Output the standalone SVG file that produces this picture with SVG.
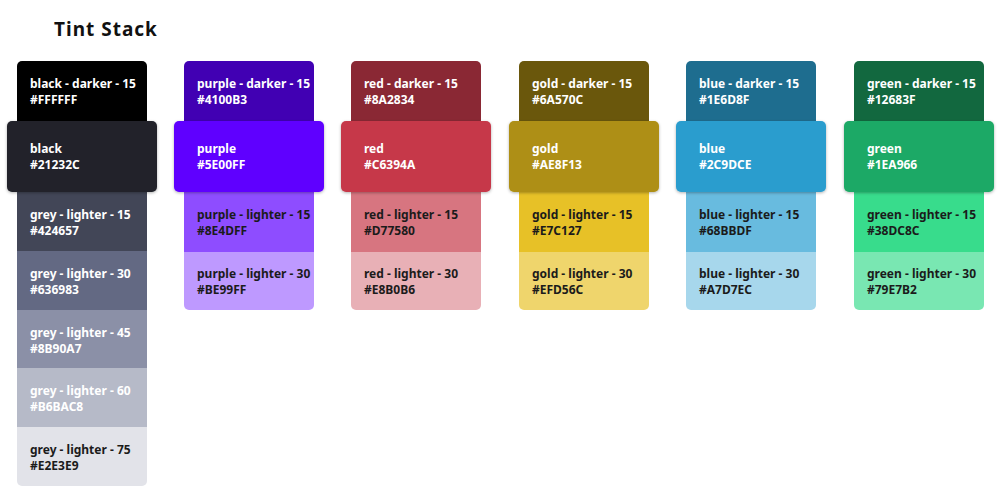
<svg xmlns="http://www.w3.org/2000/svg" width="1000" height="500" viewBox="0 0 1000 500">
<defs>
<style>
text{font-family:"Noto Sans","Open Sans",sans-serif;font-weight:bold;font-size:12px}
.w{fill:#fff}.d{fill:#1b1b1b}
.title{font-size:19px;fill:#111;letter-spacing:1px}
</style>
<filter id="sh" x="-10%" y="-20%" width="120%" height="150%"><feDropShadow dx="0" dy="1" stdDeviation="1.5" flood-opacity="0.3"/></filter>
</defs>
<rect width="1000" height="500" fill="#fff"/>
<text class="title" x="54" y="36">Tint Stack</text>

<g id="col-black">
<rect x="17" y="61" width="130" height="70" rx="5" fill="#000"/>
<text class="w" x="30" y="88">black - darker - 15</text><text class="w" x="30" y="104">#FFFFFF</text>
<rect x="17" y="185" width="130" height="301" rx="5" fill="#E2E3E9"/>
<rect x="17" y="185" width="130" height="67" fill="#424657"/>
<rect x="17" y="251" width="130" height="59" fill="#636983"/>
<rect x="17" y="310" width="130" height="58" fill="#8B90A7"/>
<rect x="17" y="368" width="130" height="59" fill="#B6BAC8"/>
<text class="w" x="30" y="219">grey - lighter - 15</text><text class="w" x="30" y="235">#424657</text>
<text class="w" x="30" y="278">grey - lighter - 30</text><text class="w" x="30" y="294">#636983</text>
<text class="w" x="30" y="337">grey - lighter - 45</text><text class="w" x="30" y="353">#8B90A7</text>
<text class="w" x="30" y="395">grey - lighter - 60</text><text class="w" x="30" y="411">#B6BAC8</text>
<text class="d" x="30" y="454">grey - lighter - 75</text><text class="d" x="30" y="470">#E2E3E9</text>
<rect x="7" y="121" width="150" height="71" rx="5" fill="#21232C" filter="url(#sh)"/>
<text class="w" x="30" y="153">black</text><text class="w" x="30" y="169">#21232C</text>
</g>

<g id="col-purple">
<rect x="184" y="61" width="130" height="70" rx="5" fill="#4100B3"/>
<text class="w" x="197" y="88">purple - darker - 15</text><text class="w" x="197" y="104">#4100B3</text>
<rect x="184" y="185" width="130" height="125" rx="5" fill="#BE99FF"/>
<rect x="184" y="185" width="130" height="67" fill="#8E4DFF"/>
<text class="d" x="197" y="219">purple - lighter - 15</text><text class="d" x="197" y="235">#8E4DFF</text>
<text class="d" x="197" y="278">purple - lighter - 30</text><text class="d" x="197" y="294">#BE99FF</text>
<rect x="174" y="121" width="150" height="71" rx="5" fill="#5E00FF" filter="url(#sh)"/>
<text class="w" x="197" y="153">purple</text><text class="w" x="197" y="169">#5E00FF</text>
</g>

<g id="col-red">
<rect x="351" y="61" width="130" height="70" rx="5" fill="#8A2834"/>
<text class="w" x="364" y="88">red - darker - 15</text><text class="w" x="364" y="104">#8A2834</text>
<rect x="351" y="185" width="130" height="125" rx="5" fill="#E8B0B6"/>
<rect x="351" y="185" width="130" height="67" fill="#D77580"/>
<text class="d" x="364" y="219">red - lighter - 15</text><text class="d" x="364" y="235">#D77580</text>
<text class="d" x="364" y="278">red - lighter - 30</text><text class="d" x="364" y="294">#E8B0B6</text>
<rect x="341" y="121" width="150" height="71" rx="5" fill="#C6394A" filter="url(#sh)"/>
<text class="w" x="364" y="153">red</text><text class="w" x="364" y="169">#C6394A</text>
</g>

<g id="col-gold">
<rect x="519" y="61" width="130" height="70" rx="5" fill="#6A570C"/>
<text class="w" x="532" y="88">gold - darker - 15</text><text class="w" x="532" y="104">#6A570C</text>
<rect x="519" y="185" width="130" height="125" rx="5" fill="#EFD56C"/>
<rect x="519" y="185" width="130" height="67" fill="#E7C127"/>
<text class="d" x="532" y="219">gold - lighter - 15</text><text class="d" x="532" y="235">#E7C127</text>
<text class="d" x="532" y="278">gold - lighter - 30</text><text class="d" x="532" y="294">#EFD56C</text>
<rect x="509" y="121" width="150" height="71" rx="5" fill="#AE8F13" filter="url(#sh)"/>
<text class="w" x="532" y="153">gold</text><text class="w" x="532" y="169">#AE8F13</text>
</g>

<g id="col-blue">
<rect x="686" y="61" width="130" height="70" rx="5" fill="#1E6D8F"/>
<text class="w" x="699" y="88">blue - darker - 15</text><text class="w" x="699" y="104">#1E6D8F</text>
<rect x="686" y="185" width="130" height="125" rx="5" fill="#A7D7EC"/>
<rect x="686" y="185" width="130" height="67" fill="#68BBDF"/>
<text class="d" x="699" y="219">blue - lighter - 15</text><text class="d" x="699" y="235">#68BBDF</text>
<text class="d" x="699" y="278">blue - lighter - 30</text><text class="d" x="699" y="294">#A7D7EC</text>
<rect x="676" y="121" width="150" height="71" rx="5" fill="#2C9DCE" filter="url(#sh)"/>
<text class="w" x="699" y="153">blue</text><text class="w" x="699" y="169">#2C9DCE</text>
</g>

<g id="col-green">
<rect x="854" y="61" width="130" height="70" rx="5" fill="#12683F"/>
<text class="w" x="867" y="88">green - darker - 15</text><text class="w" x="867" y="104">#12683F</text>
<rect x="854" y="185" width="130" height="125" rx="5" fill="#79E7B2"/>
<rect x="854" y="185" width="130" height="67" fill="#38DC8C"/>
<text class="d" x="867" y="219">green - lighter - 15</text><text class="d" x="867" y="235">#38DC8C</text>
<text class="d" x="867" y="278">green - lighter - 30</text><text class="d" x="867" y="294">#79E7B2</text>
<rect x="844" y="121" width="150" height="71" rx="5" fill="#1EA966" filter="url(#sh)"/>
<text class="w" x="867" y="153">green</text><text class="w" x="867" y="169">#1EA966</text>
</g>
</svg>
